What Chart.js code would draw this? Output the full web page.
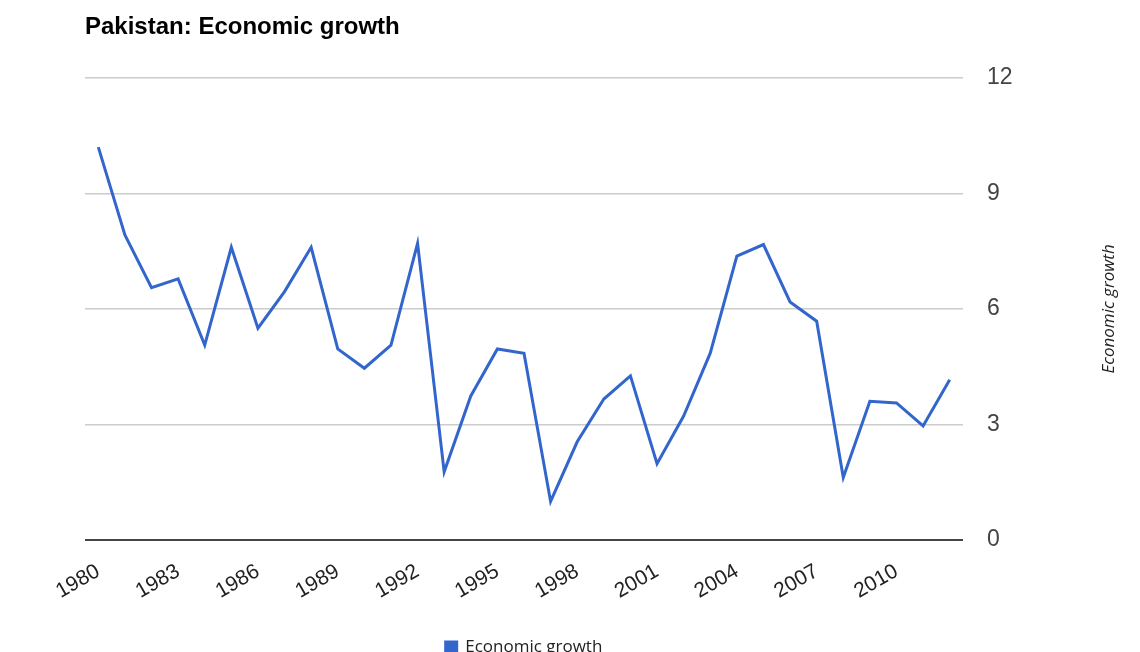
<!DOCTYPE html>
<html>
<head>
<meta charset="utf-8">
<script src="https://cdn.jsdelivr.net/npm/chart.js@4/dist/chart.umd.min.js"></script>
<style>
  html, body { margin: 0; padding: 0; background: #fff; overflow: hidden; }
  #wrap { width: 1140px; height: 666px; }
</style>
</head>
<body>
<div id="wrap"><canvas id="growth"></canvas></div>
<script>
const years = [
  '1980', '1981', '1982', '1983', '1984', '1985', '1986', '1987', '1988', '1989', '1990',
  '1991', '1992', '1993', '1994', '1995', '1996', '1997', '1998', '1999', '2000', '2001',
  '2002', '2003', '2004', '2005', '2006', '2007', '2008', '2009', '2010', '2011', '2012'
];
const growth = [
  10.2, 7.92, 6.55, 6.78, 5.06, 7.6, 5.5, 6.45, 7.6, 4.96, 4.46,
  5.06, 7.7, 1.77, 3.74, 4.96, 4.85, 1.0, 2.55, 3.66, 4.26, 1.98,
  3.22, 4.85, 7.37, 7.67, 6.18, 5.68, 1.62, 3.6, 3.56, 2.96, 4.16
];
const yTicks = [0, 3, 6, 9, 12];
const seriesName = 'Economic growth';
const chartTitle = 'Pakistan: Economic growth';

const sans = '"Liberation Sans", Arial, sans-serif';

// vertical axis title on the right, reading bottom to top
const rightTitle = {
  id: 'rightTitle',
  afterDraw(chart) {
    const ctx = chart.ctx;
    const area = chart.chartArea;
    ctx.save();
    ctx.translate(1109, (area.top + area.bottom) / 2);
    ctx.rotate(-Math.PI / 2);
    ctx.font = 'italic 17px "Open Sans", sans-serif';
    ctx.fillStyle = '#222';
    ctx.textAlign = 'center';
    ctx.textBaseline = 'middle';
    ctx.fillText(seriesName, 0, 0);
    ctx.restore();
  }
};

new Chart(document.getElementById('growth'), {
  type: 'line',
  data: {
    labels: years,
    datasets: [{
      label: seriesName,
      data: growth,
      borderColor: '#3366cc',
      backgroundColor: '#3366cc',
      borderWidth: 3,
      pointRadius: 0,
      tension: 0,
      fill: false
    }]
  },
  options: {
    responsive: true,
    maintainAspectRatio: false,
    animation: false,
    layout: { padding: { left: 85, top: 13, right: 0, bottom: 0 } },
    plugins: {
      title: {
        display: true,
        text: chartTitle,
        align: 'start',
        color: '#000',
        font: { family: sans, size: 24, weight: 'bold' },
        padding: { top: 0, bottom: 36 }
      },
      legend: {
        position: 'bottom',
        fullSize: false,
        labels: {
          boxWidth: 11,
          boxHeight: 11,
          padding: 10,
          color: '#222',
          font: { family: '"Open Sans", sans-serif', size: 17 }
        }
      },
      tooltip: { enabled: false }
    },
    scales: {
      x: {
        offset: true,
        grid: { display: false },
        border: { display: false },
        afterFit: (scale) => { scale.height = 89; },
        ticks: {
          autoSkip: false,
          maxRotation: 30,
          minRotation: 30,
          padding: 11,
          color: '#222',
          font: { family: sans, size: 21 },
          callback: function (value, index) {
            return index % 3 === 0 ? this.getLabelForValue(value) : null;
          }
        }
      },
      y: {
        position: 'right',
        min: 0,
        max: 12,
        afterFit: (scale) => { scale.width = 177; },
        afterBuildTicks: (scale) => { scale.ticks = yTicks.map(v => ({ value: v })); },
        border: { display: false },
        grid: {
          drawTicks: false,
          color: (c) => c.tick && c.tick.value === 0 ? '#444' : '#ccc',
          lineWidth: (c) => c.tick && c.tick.value === 0 ? 2 : 1.5
        },
        ticks: {
          padding: 24,
          color: '#444',
          font: { family: sans, size: 23 }
        }
      }
    }
  },
  plugins: [rightTitle]
});
</script>
</body>
</html>
